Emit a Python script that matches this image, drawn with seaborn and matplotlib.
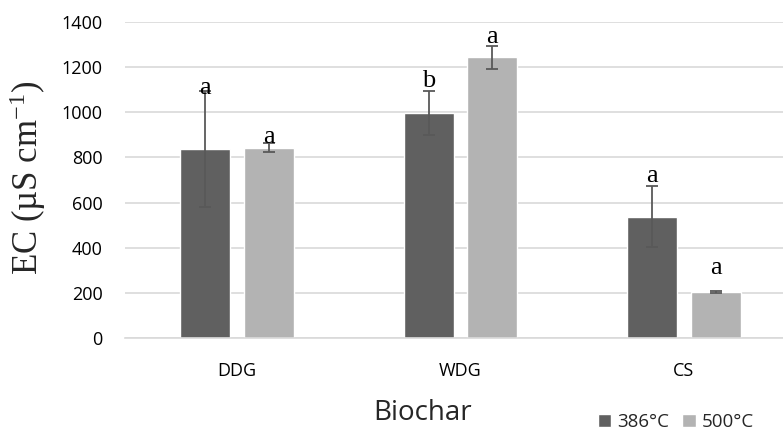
import numpy as np
import pandas as pd
import matplotlib
matplotlib.use('Agg')
import matplotlib.pyplot as plt
import seaborn as sns

# ── 데이터 ──────────────────────────────────────────
biochar = ['DDG', 'WDG', 'CS']
temps = ['386°C', '500°C']
ec_386 = [837, 995, 538]
ec_500 = [843, 1242, 206]
err_386 = [258, 98, 134]
err_500 = [20, 52, 5]
letters_386 = ['a', 'b', 'a']
letters_500 = ['a', 'a', 'a']
letter_y_386 = [1080, 1110, 692]
letter_y_500 = [865, 1307, 284]

df = pd.DataFrame({
    'Biochar': biochar * 2,
    'Temp': [temps[0]] * 3 + [temps[1]] * 3,
    'EC': ec_386 + ec_500,
})

sns.set_theme(style='white')
plt.rcParams['font.family'] = ['Open Sans', 'DejaVu Sans']
plt.rcParams['mathtext.default'] = 'regular'

colors = ['#606060', '#b3b3b3']

fig = plt.figure(figsize=(7.83, 4.34), dpi=100)
ax = fig.add_axes([125 / 783, 1 - 338.3 / 434, 658 / 783, 316.6 / 434])

sns.barplot(data=df, x='Biochar', y='EC', hue='Temp', order=biochar,
            hue_order=temps, palette=colors, width=0.567, gap=0.21,
            errorbar=None, saturation=1, ax=ax)

# 오차막대 + 유의성 문자
for cont, errs, labs, ly in zip(ax.containers,
                                [err_386, err_500],
                                [letters_386, letters_500],
                                [letter_y_386, letter_y_500]):
    xs = [b.get_x() + b.get_width() / 2 for b in cont]
    ys = [b.get_height() for b in cont]
    ax.errorbar(xs, ys, yerr=errs, fmt='none', ecolor='#595959',
                elinewidth=1.3, capsize=4.5, capthick=1.3, zorder=3)
    for x, lab, y in zip(xs, labs, ly):
        ax.text(x, y, lab, ha='center', va='baseline', fontsize=19,
                family=['Liberation Serif', 'DejaVu Serif'], color='black', zorder=4)

ax.set_ylim(0, 1400)
ax.set_yticks(np.arange(0, 1401, 200))
ax.set_xlim(-0.501, 2.443)
ax.yaxis.grid(True, color='#d9d9d9', linewidth=1.2)
ax.set_axisbelow(True)
for s in ['top', 'right', 'left']:
    ax.spines[s].set_visible(False)
ax.spines['bottom'].set_color('#d9d9d9')
ax.spines['bottom'].set_linewidth(1.2)
ax.tick_params(axis='both', length=0, labelsize=13, colors='black')
ax.tick_params(axis='y', pad=16)
ax.tick_params(axis='x', pad=17)
ax.set_xlabel('')
ax.set_ylabel('')

fig.text(27.5 / 783, 1 - 178 / 434, 'EC (µS cm$^{-1}$)', rotation=90,
         ha='center', va='center', fontsize=25,
         family=['Liberation Serif', 'DejaVu Serif'])
fig.text(423 / 783, 1 - 413 / 434, 'Biochar', ha='center', va='center',
         fontsize=20)

handles, labels = ax.get_legend_handles_labels()
ax.legend(handles, labels, loc='center', bbox_to_anchor=(676 / 783, 1 - 422 / 434),
          bbox_transform=fig.transFigure, ncol=2, frameon=False, fontsize=13.5,
          handlelength=0.7, handleheight=0.7, handletextpad=0.35,
          columnspacing=0.7, borderpad=0)

fig.savefig('out.png', dpi=100)
